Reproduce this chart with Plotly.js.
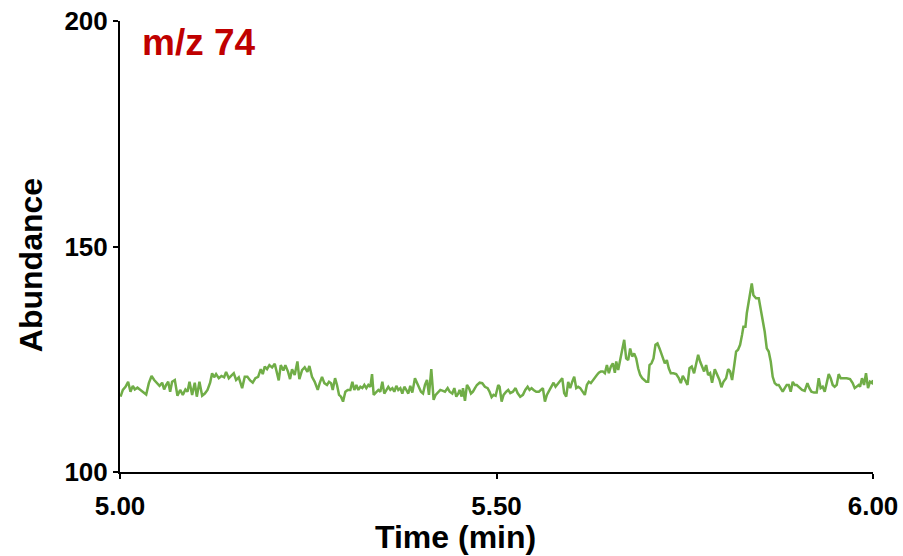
<!DOCTYPE html>
<html>
<head>
<meta charset="utf-8">
<script src="https://cdn.plot.ly/plotly-3.0.1.min.js"></script>
<style>html,body{margin:0;padding:0;background:#fff;}#chart{width:903px;height:556px;}</style>
</head>
<body>
<div id="chart"></div>
<script>
const timeMin = [
5.0007,5.0038,5.0073,5.0108,5.0139,5.0170,5.0197,5.0232,5.0272,5.0312,5.0348,5.0383,5.0419,5.0454,5.0490,5.0525,5.0560,5.0586,5.0613,5.0640,5.0666,5.0692,5.0728,5.0763,5.0799,5.0834,5.0869,5.0896,5.0923,5.0958,5.0993,5.1020,5.1055,5.1091,5.1126,5.1162,5.1197,5.1223,5.1250,5.1276,5.1312,5.1347,5.1383,5.1409,5.1445,5.1480,5.1511,5.1542,5.1577,5.1622,5.1657,5.1692,5.1728,5.1763,5.1798,5.1834,5.1869,5.1896,5.1922,5.1953,5.1984,5.2020,5.2055,5.2081,5.2108,5.2135,5.2170,5.2196,5.2232,5.2258,5.2285,5.2320,5.2356,5.2382,5.2418,5.2453,5.2489,5.2515,5.2550,5.2586,
5.2626,5.2652,5.2683,5.2714,5.2749,5.2776,5.2803,5.2825,5.2856,5.2882,5.2909,5.2935,5.2962,5.2993,5.3024,5.3059,5.3086,5.3112,5.3139,5.3165,5.3192,5.3218,5.3245,5.3271,5.3298,5.3325,5.3347,5.3369,5.3395,5.3431,5.3457,5.3484,5.3510,5.3537,5.3563,5.3590,5.3617,5.3643,5.3670,5.3696,5.3723,5.3749,5.3776,5.3802,5.3829,5.3855,5.3882,5.3917,5.3944,5.3970,5.3997,5.4024,5.4050,5.4077,5.4103,5.4134,5.4165,5.4192,5.4227,5.4254,5.4289,5.4316,5.4351,5.4378,5.4413,5.4440,5.4466,5.4493,5.4510,5.4537,5.4555,5.4581,5.4608,5.4634,5.4661,5.4687,5.4714,5.4740,5.4776,5.4811,5.4846,5.4882,5.4908,5.4935,5.4961,5.4988,5.5023,
5.5041,5.5068,5.5094,5.5129,5.5156,5.5183,5.5218,5.5253,5.5280,5.5315,5.5351,5.5382,5.5413,5.5439,5.5466,5.5492,5.5528,5.5563,5.5590,5.5616,5.5643,5.5669,5.5705,5.5736,5.5758,5.5784,5.5820,5.5846,5.5873,5.5899,5.5926,5.5952,5.5979,5.6005,5.6032,5.6059,5.6085,5.6112,5.6147,5.6173,5.6200,5.6226,5.6253,5.6280,5.6306,5.6333,5.6359,5.6386,5.6412,5.6439,5.6466,5.6492,5.6519,5.6545,5.6572,5.6590,5.6616,5.6643,5.6669,5.6696,5.6722,5.6749,5.6775,5.6802,5.6828,5.6855,5.6881,5.6908,5.6935,5.6961,5.6988,5.7014,5.7032,5.7058,5.7085,5.7111,5.7138,5.7165,5.7191,5.7218,5.7235,5.7262,5.7288,5.7315,5.7350,5.7386,5.7421,5.7448,
5.7474,5.7505,5.7536,5.7563,5.7593,5.7624,5.7651,5.7678,5.7704,5.7731,5.7757,5.7784,5.7810,5.7837,5.7863,5.7899,5.7925,5.7961,5.7987,5.8014,5.8049,5.8076,5.8102,5.8129,5.8155,5.8182,5.8208,5.8235,5.8261,5.8279,5.8306,5.8324,5.8350,5.8368,5.8390,5.8412,5.8447,5.8483,5.8509,5.8536,5.8562,5.8589,5.8615,5.8642,5.8668,5.8695,5.8722,5.8748,5.8775,5.8801,5.8828,5.8854,5.8881,5.8907,5.8934,5.8960,5.8987,5.9022,5.9058,5.9093,5.9129,5.9155,5.9182,5.9217,5.9252,5.9279,5.9305,5.9332,5.9359,5.9385,5.9412,5.9438,5.9465,5.9491,5.9518,5.9544,5.9571,5.9606,5.9651,5.9695,5.9730,5.9757,5.9783,5.9810,5.9828,5.9854,5.9881,5.9907,5.9934,5.9960,5.9987,6.0000
];
const abundance = [
116.7,118.2,118.9,120.0,117.8,119.1,118.3,118.7,118.2,117.6,117.2,119.7,121.3,120.4,119.8,119.1,119.8,118.3,119.3,120.0,117.8,120.0,120.4,116.9,118.2,117.1,118.3,117.8,120.0,117.1,119.8,116.7,120.0,116.9,117.4,118.2,119.8,121.9,121.0,121.7,120.8,121.3,121.0,122.2,120.8,121.3,121.9,120.4,121.0,118.6,121.1,121.1,120.3,119.8,120.8,121.1,122.8,121.7,123.4,122.8,123.7,123.2,124.0,122.2,120.3,123.7,122.5,123.7,122.2,120.6,122.8,121.5,124.5,120.6,122.6,123.2,122.2,123.5,121.1,120.0,
118.2,119.7,121.1,119.7,119.3,120.0,119.7,118.2,120.8,119.3,117.1,116.7,115.6,117.8,118.2,118.2,120.0,118.2,119.3,118.2,118.9,118.6,119.3,118.6,119.3,118.9,121.7,117.1,117.6,118.2,117.8,120.0,117.4,118.2,118.9,118.2,118.6,117.8,119.1,118.2,118.6,117.4,118.9,118.2,117.4,119.1,117.6,120.8,119.7,118.6,117.8,117.4,119.3,120.4,117.1,122.8,116.0,117.1,117.6,118.2,118.0,117.8,118.6,117.8,117.4,118.6,116.7,117.4,118.2,116.7,118.6,115.8,119.3,118.6,117.4,117.8,118.6,119.3,119.8,119.7,118.9,118.6,117.8,116.6,117.1,116.9,119.3,
118.9,115.6,117.1,117.8,118.2,117.5,117.8,118.6,117.5,116.7,117.1,118.2,118.9,118.2,118.6,118.2,117.8,117.8,118.2,118.6,115.6,117.1,118.2,119.3,119.8,118.9,119.7,120.4,120.8,117.5,116.7,120.0,118.6,120.0,121.1,118.6,118.9,118.6,117.8,117.1,119.3,120.0,119.7,120.4,120.8,121.5,122.0,122.3,122.3,121.9,123.7,121.9,123.4,124.1,122.0,124.5,122.6,124.8,126.7,129.3,125.2,124.8,127.4,125.6,126.3,125.2,123.0,121.5,120.8,120.4,120.0,120.0,123.7,124.1,125.2,128.2,128.5,127.4,126.3,125.2,124.1,124.8,123.0,121.9,121.9,121.7,120.8,119.7,
121.3,120.4,119.3,123.0,123.4,121.9,124.1,126.0,124.5,123.4,122.3,123.7,121.5,121.9,119.8,122.8,121.9,120.4,118.8,120.0,120.8,122.8,122.3,120.4,123.4,126.7,127.1,128.2,130.4,132.2,132.2,135.2,137.8,139.6,141.8,139.2,138.5,138.5,135.9,134.1,131.1,127.4,126.7,124.5,121.1,119.7,119.3,119.3,118.6,117.8,118.6,119.3,119.3,117.8,120.0,119.3,119.3,118.8,118.2,118.0,119.7,118.6,117.8,117.6,117.6,120.8,118.6,118.9,117.8,119.7,121.7,120.8,119.3,118.9,119.3,121.7,120.8,120.8,120.8,120.6,119.7,118.6,118.9,119.3,118.9,120.8,119.3,121.9,118.6,120.0,119.7,120.4
];
const xTickVals = [5.0, 5.5, 6.0];
const xTickText = ['5.00', '5.50', '6.00'];
const yTickVals = [100, 150, 200];
const yTickText = ['100', '150', '200'];
const labelText = 'm/z 74';
const xTitle = 'Time (min)';
const yTitle = 'Abundance';

const fontFam = 'Liberation Sans, Arial, sans-serif';
const trace = {
  x: timeMin, y: abundance, type: 'scatter', mode: 'lines',
  line: {color: '#70AD47', width: 2.5}, hoverinfo: 'skip'
};
const layout = {
  width: 903, height: 556,
  margin: {l: 120, r: 30, t: 21, b: 84},
  paper_bgcolor: '#fff', plot_bgcolor: '#fff',
  showlegend: false,
  xaxis: {
    range: [5, 6], tickvals: xTickVals, ticktext: xTickText,
    showgrid: false, zeroline: false, showline: true, linecolor: '#000', linewidth: 2,
    ticks: 'outside', ticklen: 5, tickwidth: 2, tickcolor: '#000', ticklabelstandoff: 5,
    tickfont: {family: fontFam, size: 26, color: '#000', weight: 'bold'}
  },
  yaxis: {
    range: [100, 200], tickvals: yTickVals, ticktext: yTickText,
    showgrid: false, zeroline: false, showline: true, linecolor: '#000', linewidth: 2,
    ticks: 'outside', ticklen: 5, tickwidth: 2, tickcolor: '#000',
    tickfont: {family: fontFam, size: 26, color: '#000', weight: 'bold'}
  },
  annotations: [{
    text: labelText, xref: 'paper', yref: 'paper', x: 0.026, y: 0.953,
    xanchor: 'left', yanchor: 'middle', showarrow: false,
    font: {family: fontFam, size: 37, color: '#C00000', weight: 'bold'}
  }, {
    text: xTitle, xref: 'paper', yref: 'paper', x: 0.445, y: -0.144,
    xanchor: 'center', yanchor: 'middle', showarrow: false,
    font: {family: fontFam, size: 32, color: '#000', weight: 'bold'}
  }, {
    text: yTitle, xref: 'paper', yref: 'paper', x: -0.118, y: 0.459, textangle: -90,
    xanchor: 'center', yanchor: 'middle', showarrow: false,
    font: {family: fontFam, size: 32, color: '#000', weight: 'bold'}
  }]
};
Plotly.newPlot('chart', [trace], layout, {staticPlot: true, displayModeBar: false});
</script>
</body>
</html>
